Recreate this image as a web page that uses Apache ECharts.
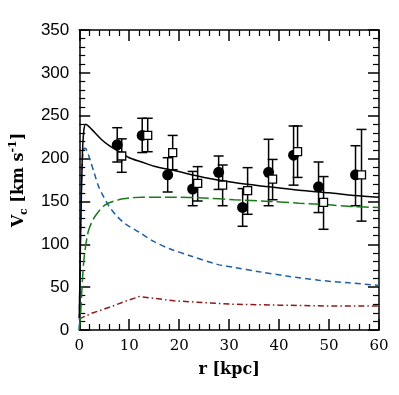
<!DOCTYPE html>
<html>
<head>
<meta charset="utf-8">
<script src="https://cdn.jsdelivr.net/npm/echarts@6/dist/echarts.min.js"></script>
<style>
  html, body { margin: 0; padding: 0; background: #fff; }
  #chart { width: 399px; height: 395px; }
</style>
</head>
<body>
<div id="chart"></div>
<script>
// model curves, [r (kpc), Vc (km/s)]
const totalCurve = [[0,14],[0.3,120],[0.6,200],[0.9,232],[1.3,240],[2,237],[3,231],[4.5,222],[6,215],[8,208],[10,201],[12.5,196],[15,191],[19,186],[25,178],[31,172],[38,167],[44,163],[50,160],[55,157],[60,155]];
const bulgeCurve = [[0,0],[0.3,130],[0.6,195],[1.0,212],[1.4,211],[2.2,198],[3,183],[3.9,167],[5,154],[6,144],[7.5,133],[9.2,124],[12,114],[15,103],[18,95],[22,87],[28,76],[31,73],[36,68],[41.5,63],[48,58],[54,55],[60,52]];
const haloCurve = [[0,0],[0.3,22],[0.6,55],[0.9,80],[1.2,95],[1.9,117],[3.2,133],[5.2,146],[7.9,152],[10,154],[12.5,155],[19,155],[25,154],[31,152],[38,150],[44,148],[50,146],[55,144],[60,143]];
const gasCurve = [[0,13],[2.5,19.5],[6,26.5],[9,33],[12,39],[15,37],[19,34],[25,32],[31,30],[40,29],[50,28],[60,28]];

// filled circles
const circR  = [7.6, 12.6, 17.7, 22.7, 27.9, 32.7, 37.9, 42.9, 47.9, 55.3];
const circV  = [216, 227, 181, 164.5, 184, 143, 184, 204, 167, 181];
const circLo = [196, 207, 161, 145, 164, 121, 145, 169, 137, 145];
const circHi = [236, 247, 201, 185, 203, 165, 222.5, 238, 196, 215];

// open squares
const sqR  = [8.5, 13.7, 18.7, 23.7, 28.7, 33.7, 38.7, 43.7, 48.9, 56.5];
const sqV  = [203, 227, 207, 171, 169, 162.5, 176, 208, 149, 181];
const sqLo = [184, 208, 187, 150.5, 145, 135, 152, 178, 117.5, 127];
const sqHi = [223, 247, 227, 190.6, 192.5, 189.4, 199, 238, 179, 234];

const serif = 'DejaVu Serif';
const sans = 'Liberation Sans';

const myChart = echarts.init(document.getElementById('chart'));

// error bar with caps
function errorBar(params, api) {
  const x = api.value(0);
  const lo = api.coord([x, api.value(1)]);
  const hi = api.coord([x, api.value(2)]);
  const cap = 5;
  const st = { stroke: '#000', lineWidth: 1.5 };
  return {
    type: 'group',
    children: [
      { type: 'line', shape: { x1: lo[0], y1: lo[1], x2: hi[0], y2: hi[1] }, style: st },
      { type: 'line', shape: { x1: lo[0] - cap, y1: lo[1], x2: lo[0] + cap, y2: lo[1] }, style: st },
      { type: 'line', shape: { x1: hi[0] - cap, y1: hi[1], x2: hi[0] + cap, y2: hi[1] }, style: st }
    ]
  };
}

const tickCommon = {
  axisLine: { show: true, onZero: false, lineStyle: { color: '#000', width: 1.5 } },
  axisTick: { show: true, inside: true, length: 11, lineStyle: { color: '#000', width: 1.5 } },
  minorTick: { show: true, splitNumber: 5, length: 6, lineStyle: { color: '#000', width: 1.2 } },
  splitLine: { show: false }
};

const option = {
  animation: false,
  grid: { left: 79, right: 20, top: 30, bottom: 65 },
  xAxis: [
    Object.assign({
      type: 'value', min: 0, max: 60, interval: 10, position: 'bottom',
      name: 'r [kpc]', nameLocation: 'middle', nameGap: 32,
      nameTextStyle: { fontFamily: serif, fontSize: 16, fontWeight: 'bold', color: '#000' },
      axisLabel: { fontFamily: serif, fontSize: 15, color: '#000', margin: 9 }
    }, tickCommon),
    Object.assign({
      type: 'value', min: 0, max: 60, interval: 10, position: 'top',
      axisLabel: { show: false }
    }, tickCommon)
  ],
  yAxis: [
    Object.assign({
      type: 'value', min: 0, max: 350, interval: 50, position: 'left',
      name: '{t|V}{sub|c}{t| [km s}{sup|-1}{t|]}', nameLocation: 'middle', nameGap: 43,
      nameTextStyle: {
        fontFamily: serif, fontSize: 16, fontWeight: 'bold', color: '#000',
        rich: {
          t: { fontFamily: serif, fontSize: 16, fontWeight: 'bold', color: '#000', lineHeight: 22 },
          sub: { fontFamily: serif, fontSize: 11, fontWeight: 'bold', color: '#000', verticalAlign: 'bottom', lineHeight: 22 },
          sup: { fontFamily: serif, fontSize: 11, fontWeight: 'bold', color: '#000', verticalAlign: 'top', lineHeight: 22 }
        }
      },
      axisLabel: { fontFamily: sans, fontSize: 17, color: '#000', margin: 10 }
    }, tickCommon),
    Object.assign({
      type: 'value', min: 0, max: 350, interval: 50, position: 'right',
      axisLabel: { show: false }
    }, tickCommon)
  ],
  series: [
    {
      name: 'gas', type: 'line', data: gasCurve, showSymbol: false,
      lineStyle: { color: '#8b1a1a', width: 1.5, type: [6, 3, 1.5, 3] }
    },
    {
      name: 'bulge', type: 'line', data: bulgeCurve, showSymbol: false, smooth: 0.3,
      lineStyle: { color: '#1f5fa6', width: 1.5, type: [6, 4] }
    },
    {
      name: 'halo', type: 'line', data: haloCurve, showSymbol: false, smooth: 0.3,
      lineStyle: { color: '#1a7a1a', width: 1.5, type: [12, 4] }
    },
    {
      name: 'total', type: 'line', data: totalCurve, showSymbol: false, smooth: 0.3,
      lineStyle: { color: '#000', width: 1.5 }
    },
    {
      name: 'errCirc', type: 'custom', renderItem: errorBar,
      data: circR.map((r, i) => [r, circLo[i], circHi[i]]), z: 3
    },
    {
      name: 'errSq', type: 'custom', renderItem: errorBar,
      data: sqR.map((r, i) => [r, sqLo[i], sqHi[i]]), z: 3
    },
    {
      name: 'circles', type: 'scatter', symbol: 'circle', symbolSize: 11,
      data: circR.map((r, i) => [r, circV[i]]),
      itemStyle: { color: '#000', opacity: 1 }, z: 4
    },
    {
      name: 'squares', type: 'scatter', symbol: 'rect', symbolSize: 8,
      data: sqR.map((r, i) => [r, sqV[i]]),
      itemStyle: { color: '#fff', borderColor: '#000', borderWidth: 1.3, opacity: 1 }, z: 5
    }
  ]
};

myChart.setOption(option);
</script>
</body>
</html>
